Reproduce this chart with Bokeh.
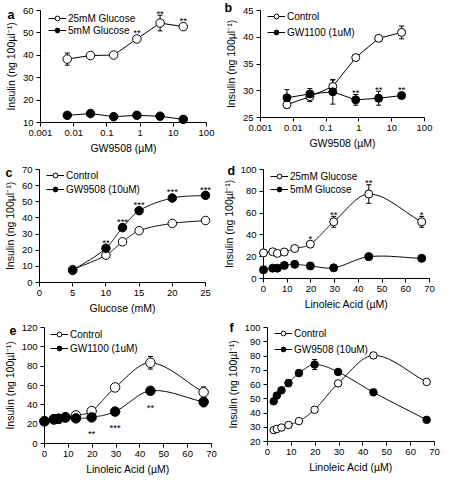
import numpy as np
from bokeh.plotting import figure
from bokeh.models import (ColumnDataSource, Whisker, TeeHead, Legend, LegendItem,
                          FixedTicker, CustomJSTickFormatter, Range1d)
from bokeh.layouts import column, row
from bokeh.embed import file_html
from bokeh.resources import INLINE
from bokeh.core.properties import value

FONT = "Liberation Sans"

# ---------------- data ----------------
gw_conc = [0.0064, 0.032, 0.16, 0.8, 4, 20]
a_25mM = [38.3, 39.9, 40.1, 47.3, 54.4, 52.8]
a_25mM_err = [2.7, 0.7, 0.7, 1.4, 3.5, 1.0]
a_5mM = [13.2, 14.0, 12.6, 13.2, 12.8, 11.4]
a_5mM_err = [0.6, 0.6, 0.5, 0.5, 0.5, 0.6]
a_sig = ["", "", "", "**", "**", "**"]

b_control = [27.4, 28.9, 30.8, 36.2, 39.8, 40.9]
b_control_err = [0.7, 0.9, 1.2, 0.3, 0.3, 1.2]
b_gw1100 = [28.7, 29.4, 29.8, 28.3, 28.6, 29.1]
b_gw1100_err = [1.5, 1.0, 2.3, 1.0, 1.3, 0.5]
b_sig = ["", "", "", "**", "**", "**"]

glucose = [5, 10, 12.5, 15, 20, 25]
c_control = [8.0, 16.9, 25.2, 32.1, 36.6, 38.4]
c_control_err = [0.8, 0.8, 1.0, 0.8, 0.8, 1.0]
c_gw9508 = [7.5, 21.2, 34.0, 44.5, 52.3, 54.0]
c_gw9508_err = [0.8, 1.2, 1.2, 1.0, 1.0, 1.5]
c_sig = ["", "**", "***", "***", "***", "***"]

linoleic = [0, 3.9, 5.85, 8.78, 13.17, 19.75, 29.6, 44.4, 66.7]
d_25mM = [23.5, 24.5, 23.0, 24.3, 27.5, 31.5, 52.0, 77.5, 52.0]
d_25mM_err = [1.0, 0.8, 0.8, 0.8, 0.8, 2.2, 5.0, 8.5, 5.0]
d_5mM = [8.0, 9.5, 9.5, 12.0, 13.0, 11.5, 9.8, 20.0, 18.5]
d_5mM_err = [0.8, 0.8, 0.8, 0.8, 0.8, 0.8, 0.8, 0.8, 0.8]
d_sig = ["", "", "", "", "", "*", "**", "**", "*"]

e_control = [23.0, 25.0, 25.5, 27.0, 29.0, 33.5, 58.0, 83.5, 53.0]
e_control_err = [1.0, 1.0, 1.0, 1.0, 1.0, 2.0, 2.0, 6.5, 5.5]
e_gw1100 = [23.0, 25.0, 25.5, 27.0, 26.0, 27.0, 33.0, 54.5, 43.0]
e_gw1100_err = [1.0, 1.0, 1.0, 1.0, 1.0, 1.0, 1.5, 2.0, 5.0]
e_sig = ["", "", "", "", "", "**", "***", "**", ""]

linoleic_f = [2.6, 3.9, 5.85, 8.78, 13.17, 19.75, 29.6, 44.4, 66.7]
f_control = [28.0, 28.8, 29.8, 31.6, 34.3, 42.3, 60.8, 80.4, 61.8]
f_control_err = [0.8, 0.8, 0.8, 0.8, 0.8, 1.5, 1.5, 1.0, 1.0]
f_gw9508 = [48.2, 52.2, 55.9, 61.0, 68.0, 74.0, 68.8, 54.5, 35.2]
f_gw9508_err = [1.0, 1.0, 1.0, 2.5, 2.0, 3.5, 1.5, 2.0, 1.0]

panel_letters = ["a", "b", "c", "d", "e", "f"]
YLABEL = "Insulin (ng 100\u00b5l\u207b\u00b9)"


def smooth(xs, ys, n=24):
    x = np.asarray(xs, float)
    y = np.asarray(ys, float)
    m = np.empty_like(y)
    m[1:-1] = (y[2:] - y[:-2]) / (x[2:] - x[:-2])
    m[0] = (y[1] - y[0]) / (x[1] - x[0])
    m[-1] = (y[-1] - y[-2]) / (x[-1] - x[-2])
    xo, yo = [], []
    for i in range(len(x) - 1):
        h = x[i + 1] - x[i]
        t = np.linspace(0, 1, n, endpoint=(i == len(x) - 2))
        h00 = 2 * t**3 - 3 * t**2 + 1
        h10 = t**3 - 2 * t**2 + t
        h01 = -2 * t**3 + 3 * t**2
        h11 = t**3 - t**2
        xo.append(x[i] + t * h)
        yo.append(h00 * y[i] + h10 * h * m[i] + h01 * y[i + 1] + h11 * h * m[i + 1])
    return np.concatenate(xo), np.concatenate(yo)


def base_fig(xr, yr, xticks, yticks, xlabel, fw, fh, bl, bt, br, bb, msize, log=False):
    p = figure(frame_width=fw, frame_height=fh, min_border_left=bl, min_border_top=bt,
               min_border_right=br, min_border_bottom=bb,
               x_range=Range1d(*xr), y_range=Range1d(*yr),
               x_axis_type="log" if log else "linear",
               output_backend="svg", toolbar_location=None, tools="")
    p.outline_line_color = None
    p.grid.visible = False
    p.xaxis.ticker = FixedTicker(ticks=xticks)
    p.yaxis.ticker = FixedTicker(ticks=yticks)
    if log:
        p.xaxis.formatter = CustomJSTickFormatter(code="return String(tick);")
    p.xaxis.axis_label = xlabel
    p.yaxis.axis_label = YLABEL
    for ax in p.axis:
        ax.axis_line_color = "black"
        ax.axis_line_width = 1
        ax.major_tick_line_color = "black"
        ax.major_tick_out = 4
        ax.major_tick_in = 0
        ax.minor_tick_line_color = None
        ax.major_label_text_font = FONT
        ax.major_label_text_font_size = "9.5px"
        ax.major_label_text_color = "black"
        ax.major_label_standoff = 3
        ax.axis_label_text_font = FONT
        ax.axis_label_text_font_size = "10.5px"
        ax.axis_label_text_font_style = "normal"
        ax.axis_label_text_color = "black"
        ax.axis_label_standoff = 3
    # frame geometry, used to place the panel letter and the significance marks
    p.tags = [dict(fw=fw, fh=fh, bl=bl, bt=bt, xr=xr, yr=yr, log=log, msize=msize)]
    return p


def add_series(p, x, y, err, filled, curved):
    msize = p.tags[0]["msize"]
    if curved:
        lx, ly = smooth(x, y)
    else:
        lx, ly = list(x), list(y)
    line = p.line(lx, ly, line_color="black", line_width=1)
    src = ColumnDataSource(dict(x=list(x), y=list(y),
                                upper=[v + e for v, e in zip(y, err)],
                                lower=[v - e for v, e in zip(y, err)]))
    w = Whisker(source=src, base="x", upper="upper", lower="lower",
                line_color="black", line_width=1, level="annotation",
                upper_head=TeeHead(size=5, line_color="black", line_width=1),
                lower_head=TeeHead(size=5, line_color="black", line_width=1))
    p.add_layout(w)
    sc = p.scatter("x", "y", source=src, marker="circle", size=msize,
                   fill_color="black" if filled else "white",
                   line_color="black", line_width=1, level="overlay")
    return line, sc


def add_sig(p, x, y, err, sig, above=True):
    g = p.tags[0]
    ppu = g["fh"] / (g["yr"][1] - g["yr"][0])   # px per data unit
    rad = (g["msize"] / 2) / ppu
    gap = (2.0 if above else 6.0) / ppu
    xs, ys, ts = [], [], []
    for xi, yi, ei, s in zip(x, y, err, sig):
        if s:
            d = max(ei, rad) + gap
            xs.append(xi)
            ys.append(yi + d if above else yi - d)
            ts.append(s)
    p.text(xs, ys, text=ts, text_align="center",
           text_baseline="middle" if above else "top",
           text_font=value(FONT), text_font_size="9.5px",
           text_color="black", level="overlay")


def add_legend(p, items, vx, vy, spacing):
    leg = Legend(items=[LegendItem(label=lab, renderers=list(r)) for lab, r in items],
                 location=(vx, vy), border_line_color=None, background_fill_alpha=0,
                 label_text_font=FONT, label_text_font_size="10px", label_text_color="black",
                 glyph_width=18, glyph_height=12, label_height=12, label_standoff=2,
                 padding=0, spacing=spacing, margin=0)
    p.add_layout(leg)


def add_letter(p, letter, cx, cy):
    g = p.tags[0]
    x0, x1 = g["xr"]
    y0, y1 = g["yr"]
    dx = (cx - g["bl"]) / g["fw"]
    dy = (g["bt"] - cy) / g["fh"]
    if g["log"]:
        lx = 10 ** (np.log10(x0) + dx * (np.log10(x1) - np.log10(x0)))
    else:
        lx = x0 + dx * (x1 - x0)
    ly = y1 + dy * (y1 - y0)
    p.text([lx], [ly], text=[letter], text_align="left", text_baseline="middle",
           text_font=value(FONT), text_font_size="12.5px", text_font_style="bold",
           text_color="black", level="overlay")


decades = [0.001, 0.01, 0.1, 1, 10, 100]

# ---- a ----
pa = base_fig((0.001, 100), (10, 60), decades, [10, 20, 30, 40, 50, 60], "GW9508 (\u00b5M)",
              166, 112, 40, 7, 13, 36, 8.5, log=True)
ra1 = add_series(pa, gw_conc, a_25mM, a_25mM_err, False, False)
ra2 = add_series(pa, gw_conc, a_5mM, a_5mM_err, True, False)
add_sig(pa, gw_conc, a_25mM, a_25mM_err, a_sig)
add_legend(pa, [("25mM Glucose", ra1), ("5mM Glucose", ra2)], 8, 86, 0)
add_letter(pa, panel_letters[0], 7, 11)

# ---- b ----
pb = base_fig((0.001, 100), (25, 45), decades, [25, 30, 35, 40, 45], "GW9508 (\u00b5M)",
              164, 107, 41, 10, 15, 38, 8, log=True)
rb1 = add_series(pb, gw_conc, b_control, b_control_err, False, False)
rb2 = add_series(pb, gw_conc, b_gw1100, b_gw1100_err, True, False)
add_sig(pb, gw_conc, b_gw1100, b_gw1100_err, b_sig)
add_legend(pb, [("Control", rb1), ("GW1100 (1uM)", rb2)], 7, 79, 4)
add_letter(pb, panel_letters[1], 5, 7)

# ---- c ----
pc = base_fig((0, 25), (0, 70), [0, 5, 10, 15, 20, 25], [0, 10, 20, 30, 40, 50, 60, 70],
              "Glucose (mM)", 166, 113, 39, 12, 14, 34, 8.5)
rc1 = add_series(pc, glucose, c_control, c_control_err, False, True)
rc2 = add_series(pc, glucose, c_gw9508, c_gw9508_err, True, True)
add_sig(pc, glucose, c_gw9508, c_gw9508_err, c_sig)
add_legend(pc, [("Control", rc1), ("GW9508 (10uM)", rc2)], 7, 87, 2)
add_letter(pc, panel_letters[2], 5, 15)

# ---- d ----
pd_ = base_fig((0, 70), (0, 100), [0, 10, 20, 30, 40, 50, 60, 70], [0, 20, 40, 60, 80, 100],
               "Linoleic Acid (\u00b5M)", 166, 109, 43, 14, 11, 36, 8)
rd1 = add_series(pd_, linoleic, d_25mM, d_25mM_err, False, True)
rd2 = add_series(pd_, linoleic, d_5mM, d_5mM_err, True, True)
add_sig(pd_, linoleic, d_25mM, d_25mM_err, d_sig)
add_legend(pd_, [("25mM Glucose", rd1), ("5mM Glucose", rd2)], 7, 83, 1)
add_letter(pd_, panel_letters[3], 7, 15)

# ---- e ----
pe = base_fig((0, 70), (0, 120), [0, 10, 20, 30, 40, 50, 60, 70], [0, 20, 40, 60, 80, 100, 120],
              "Linoleic Acid (\u00b5M)", 167, 116, 40, 11, 12, 30, 9.5)
re1 = add_series(pe, linoleic, e_control, e_control_err, False, True)
re2 = add_series(pe, linoleic, e_gw1100, e_gw1100_err, True, True)
add_sig(pe, linoleic, e_gw1100, e_gw1100_err, e_sig, above=False)
add_legend(pe, [("Control", re1), ("GW1100 (1uM)", re2)], 6, 89, 2)
add_letter(pe, panel_letters[4], 5, 14)

# ---- f ----
pf = base_fig((0, 70), (20, 100), [0, 10, 20, 30, 40, 50, 60, 70],
              [20, 30, 40, 50, 60, 70, 80, 90, 100],
              "Linoleic Acid (\u00b5M)", 167, 114, 43, 13, 10, 30, 7.5)
rf1 = add_series(pf, linoleic_f, f_control, f_control_err, False, True)
rf2 = add_series(pf, linoleic_f, f_gw9508, f_gw9508_err, True, True)
add_legend(pf, [("Control", rf1), ("GW9508 (10uM)", rf2)], 7, 86, 4)
add_letter(pf, panel_letters[5], 5, 13)

layout = column(row(pa, pb), row(pc, pd_), row(pe, pf))
open("out.html", "w").write(file_html(layout, INLINE))
